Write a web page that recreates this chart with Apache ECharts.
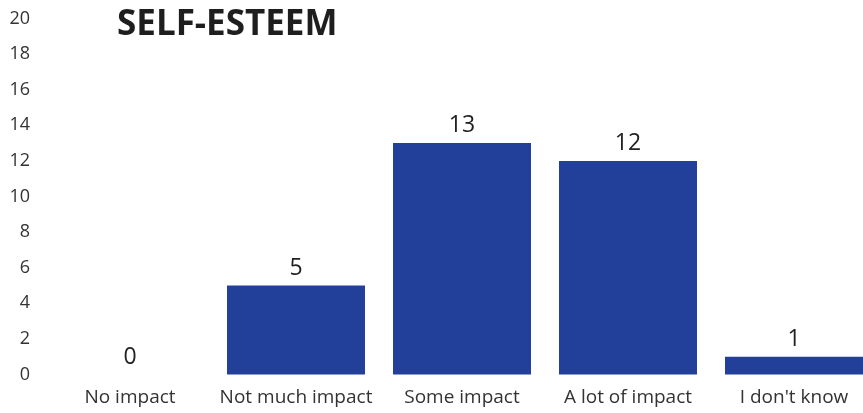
<!DOCTYPE html>
<html><head><meta charset="utf-8">
<script src="https://cdn.jsdelivr.net/npm/echarts@6/dist/echarts.min.js"></script>
<style>html,body{margin:0;padding:0;background:#fff}#c{width:863px;height:413px}</style>
</head><body><div id="c"></div>
<script>
const titleText = "SELF-ESTEEM";
const categories = ["No impact", "Not much impact", "Some impact", "A lot of impact", "I don't know"];
const values = [0, 5, 13, 12, 1];
const yMin = 0, yMax = 20, yStep = 2;

const chart = echarts.init(document.getElementById('c'));
chart.setOption({
  animation: false,
  title: {
    text: titleText, left: 112, top: 3,
    textStyle: { fontFamily: 'Open Sans', fontWeight: 'bold', fontSize: 35, color: '#1e1e1e' }
  },
  grid: { left: 47, width: 830, top: 18.5, bottom: 38.5, containLabel: false, outerBoundsMode: 'none' },
  xAxis: {
    type: 'category', data: categories,
    axisLine: { show: false }, axisTick: { show: false },
    axisLabel: { interval: 0, fontFamily: 'Open Sans', fontSize: 19, color: '#333', margin: 14 }
  },
  yAxis: {
    type: 'value', min: yMin, max: yMax, interval: yStep,
    splitLine: { show: false }, axisLine: { show: false }, axisTick: { show: false },
    axisLabel: { fontFamily: 'Open Sans', fontSize: 18, color: '#333', margin: 17 }
  },
  series: [{
    type: 'bar', data: values, barWidth: 138,
    itemStyle: { color: '#22409A' },
    label: { show: true, position: 'top', distance: 6, fontFamily: 'Open Sans', fontSize: 23, color: '#222' }
  }]
});
</script></body></html>
